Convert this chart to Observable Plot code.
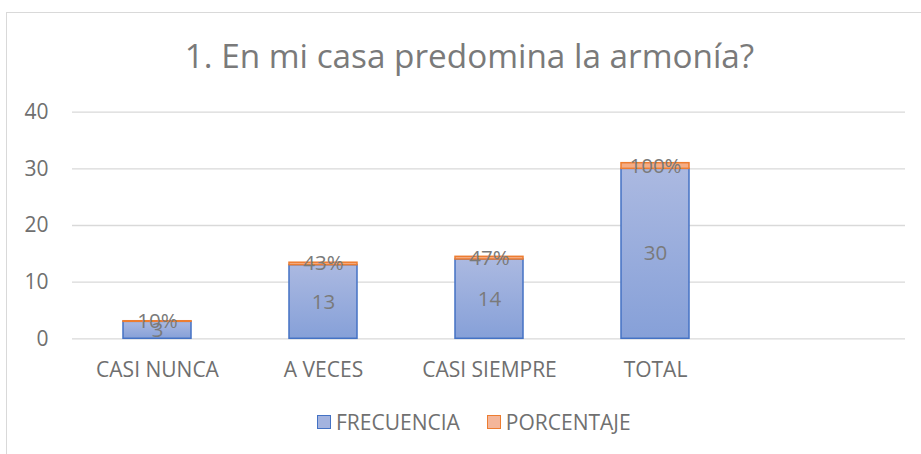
<!DOCTYPE html>
<html>
<head>
<meta charset="utf-8">
<script src="https://cdn.jsdelivr.net/npm/d3@7"></script>
<script src="https://cdn.jsdelivr.net/npm/@observablehq/plot@0.6"></script>
<style>
  html, body { margin: 0; padding: 0; background: #fff; width: 921px; height: 454px; overflow: hidden; position: relative; font-family: "Open Sans", sans-serif; }
  #frame { position: absolute; left: 6px; top: 12px; width: 940px; height: 460px; border-top: 1.5px solid #d9d9d9; border-left: 1.5px solid #d9d9d9; box-sizing: border-box; }
  #title { position: absolute; left: 0; top: 35px; width: 939px; text-align: center; font-size: 33.3px; line-height: 40px; color: #7a7a7a; white-space: nowrap; }
  #chart { position: absolute; left: 0; top: 95px; }
  #legend { position: absolute; left: 317px; top: 410px; display: flex; align-items: center; font-size: 21px; line-height: 24px; color: #707070; white-space: nowrap; }
  .sw { width: 12px; height: 12px; border: 1.5px solid; margin-right: 5px; }
  .item { display: flex; align-items: center; }
</style>
</head>
<body>
<div id="frame"></div>
<div id="title">1. En mi casa predomina la armonía?</div>
<div id="chart"></div>
<div id="legend"></div>
<script>
const categories = ["CASI NUNCA", "A VECES", "CASI SIEMPRE", "TOTAL"];
const frecuencia = [3, 13, 14, 30];
const porcentaje = [0.10, 0.43, 0.47, 1.00];
const yTicks = [0, 10, 20, 30, 40];
const seriesNames = ["FRECUENCIA", "PORCENTAJE"];

const rows = categories.map((c, i) => ({cat: c, f: frecuencia[i], p: porcentaje[i]}));
const xDomain = [...categories, ""];
const axisColor = "#6f6f6f";
const labelColor = "#7a7a7a";

const svg = Plot.plot({
  width: 921,
  height: 295,
  marginLeft: 72,
  marginRight: 16,
  marginTop: 16.7,
  marginBottom: 51.7,
  style: {fontFamily: "'Open Sans', sans-serif", background: "transparent"},
  x: {type: "band", domain: xDomain, paddingInner: 0.592, paddingOuter: 0.296},
  y: {domain: [0, 40]},
  marks: [
    Plot.gridY(yTicks, {stroke: "#d9d9d9", strokeOpacity: 1, strokeWidth: 1.3}),
    Plot.axisY({ticks: yTicks, tickSize: 0, tickPadding: 24, fontSize: 21, fill: axisColor, label: null}),
    Plot.axisX({tickSize: 0, tickPadding: 23, fontSize: 21, fill: axisColor, label: null}),
    Plot.barY(rows, {x: "cat", y1: 0, y2: "f", fill: "url(#blueGrad)", stroke: "#4472c4", strokeWidth: 1.5}),
    Plot.barY(rows, {x: "cat", y1: "f", y2: d => d.f + d.p, fill: "#f4ad86", stroke: "#ed7d31", strokeWidth: 1.5}),
    Plot.text(rows, {x: "cat", y: d => d.f / 2, text: d => String(d.f), fontSize: 20.5, fill: labelColor}),
    Plot.text(rows, {x: "cat", y: d => d.f + d.p / 2, text: d => Math.round(d.p * 100) + "%", fontSize: 20.5, fill: labelColor})
  ]
});

const defs = d3.select(svg).insert("defs", ":first-child");
const g = defs.append("linearGradient").attr("id", "blueGrad").attr("x1", 0).attr("y1", 0).attr("x2", 0).attr("y2", 1);
g.append("stop").attr("offset", "0%").attr("stop-color", "#abb9e1");
g.append("stop").attr("offset", "100%").attr("stop-color", "#86a0d8");

document.getElementById("chart").appendChild(svg);

const legendSw = [
  {fill: "#a3b3df", stroke: "#4472c4"},
  {fill: "#f4b69a", stroke: "#ed7d31"}
];
const legend = document.getElementById("legend");
seriesNames.forEach((name, i) => {
  const item = document.createElement("div");
  item.className = "item";
  if (i > 0) item.style.marginLeft = "27px";
  const sw = document.createElement("div");
  sw.className = "sw";
  sw.style.background = legendSw[i].fill;
  sw.style.borderColor = legendSw[i].stroke;
  const t = document.createElement("span");
  t.textContent = name;
  item.appendChild(sw);
  item.appendChild(t);
  legend.appendChild(item);
});
</script>
</body>
</html>
